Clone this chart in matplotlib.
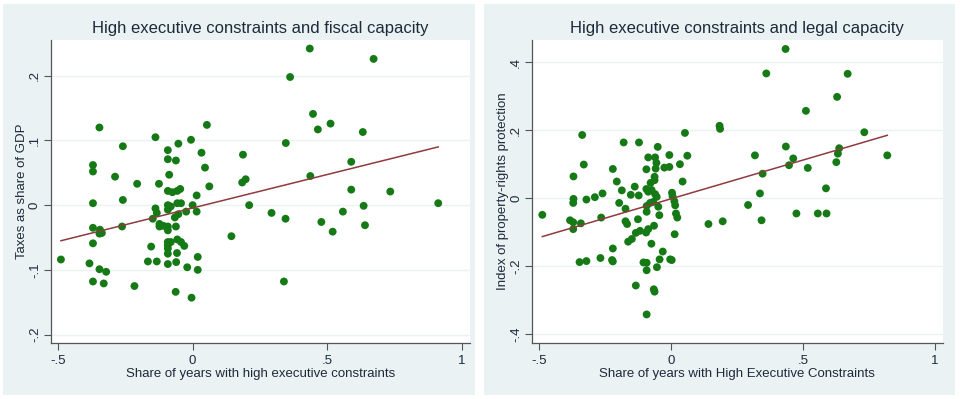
import numpy as np
import matplotlib
matplotlib.use("Agg")
import matplotlib.pyplot as plt
from matplotlib.patches import Rectangle

# ---- donnees --------------------------------------------------------------
# panneau gauche : capacite fiscale
fisc_x = [0.435, 0.672, 0.362, -0.346, 0.053, 0.447, 0.465, 0.512, 0.632, -0.138,
          -0.006, -0.053, 0.346, -0.259, -0.092, 0.033, 0.187, -0.092, -0.062, 0.589,
          -0.370, -0.370, 0.046, -0.087, -0.288, 0.437, 0.184, 0.197, -0.206, -0.125,
          0.062, -0.092, -0.075, -0.057, -0.046, 0.015, 0.589, 0.734, -0.259, 0.912,
          -0.370, -0.092, -0.081, -0.092, -0.057, -0.043, 0.000, 0.015, -0.024, -0.138,
          -0.133, -0.148, -0.053, -0.066, 0.210, 0.293, 0.345, 0.478, 0.558, 0.635,
          0.520, 0.640, -0.370, -0.344, -0.337, -0.346, -0.262, -0.123, -0.108, -0.123,
          -0.092, -0.092, -0.062, -0.370, 0.144, -0.154, -0.092, -0.092, -0.081, -0.092,
          -0.092, -0.057, -0.043, -0.031, -0.058, -0.489, -0.383, -0.166, -0.133, -0.092,
          -0.061, 0.019, -0.346, -0.321, -0.020, 0.019, -0.370, -0.330, -0.216, 0.339,
          -0.063, -0.004]
fisc_y = [0.242, 0.226, 0.198, 0.120, 0.124, 0.141, 0.117, 0.126, 0.113, 0.105,
          0.101, 0.095, 0.096, 0.091, 0.085, 0.081, 0.078, 0.071, 0.069, 0.067,
          0.062, 0.052, 0.058, 0.047, 0.044, 0.045, 0.035, 0.040, 0.033, 0.033,
          0.029, 0.022, 0.020, 0.022, 0.025, 0.015, 0.024, 0.021, 0.008, 0.003,
          0.003, 0.000, -0.002, -0.007, 0.003, 0.003, 0.000, -0.010, -0.010, -0.005,
          -0.012, -0.021, -0.014, -0.019, 0.000, -0.012, -0.021, -0.026, -0.010, -0.001,
          -0.041, -0.031, -0.035, -0.038, -0.043, -0.044, -0.033, -0.029, -0.032, -0.033,
          -0.033, -0.039, -0.033, -0.059, -0.048, -0.064, -0.057, -0.062, -0.057, -0.075,
          -0.067, -0.053, -0.057, -0.063, -0.074, -0.084, -0.090, -0.087, -0.087, -0.091,
          -0.088, -0.080, -0.099, -0.103, -0.096, -0.100, -0.118, -0.121, -0.125, -0.118,
          -0.134, -0.143]
fisc_fit_x = [-0.489, 0.912]
fisc_fit_y = [-0.055, 0.090]

# panneau droit : capacite legale
leg_x = [0.434, 0.361, 0.669, 0.629, 0.511, 0.184, 0.186, 0.732, 0.053, -0.336,
         -0.179, -0.121, -0.050, 0.435, 0.637, 0.632, -0.086, -0.060, -0.006, 0.062,
         0.318, 0.463, 0.819, -0.055, -0.330, 0.034, 0.447, 0.626, -0.093, -0.058,
         -0.025, -0.006, -0.220, 0.518, -0.369, 0.347, -0.062, -0.205, 0.044, -0.077,
         -0.062, -0.137, 0.587, -0.186, -0.093, -0.086, -0.073, -0.152, -0.122, -0.060,
         -0.054, 0.004, 0.006, -0.259, -0.288, -0.369, -0.320, 0.337,
         -0.487, -0.370, -0.196, -0.172, -0.264, -0.382, -0.370, -0.341, -0.370, -0.125,
         -0.172, -0.166, -0.092, -0.092, -0.079, -0.067, -0.048, -0.044, 0.016, 0.013,
         0.019, 0.024, 0.142, 0.196, 0.292, 0.343, 0.475, 0.556, 0.589, -0.064,
         -0.086, -0.094, -0.117, -0.133, 0.014, -0.148, -0.162, -0.074, -0.220, -0.031,
         -0.267, -0.223, -0.220, -0.346, -0.320, -0.043, -0.003, 0.003, -0.104, -0.092,
         -0.053, -0.092, -0.133, -0.065, -0.062, -0.092]
leg_y = [0.439, 0.367, 0.366, 0.298, 0.257, 0.213, 0.204, 0.194, 0.192, 0.186,
         0.164, 0.164, 0.151, 0.152, 0.147, 0.131, 0.120, 0.120, 0.127, 0.125,
         0.126, 0.117, 0.126, 0.104, 0.099, 0.100, 0.097, 0.106, 0.085, 0.087,
         0.090, 0.092, 0.086, 0.089, 0.064, 0.072, 0.063, 0.049, 0.049, 0.045,
         0.053, 0.034, 0.029, 0.023, 0.027, 0.019, 0.024, 0.010, 0.008, 0.012,
         0.004, 0.016, 0.006, 0.014, 0.003, -0.002, -0.004, 0.014,
         -0.049, -0.014, -0.014, -0.031, -0.057, -0.065, -0.071, -0.074, -0.091, -0.062,
         -0.068, -0.076, -0.040, -0.023, -0.014, -0.011, -0.025, -0.050, -0.021, -0.009,
         -0.045, -0.057, -0.076, -0.068, -0.020, -0.065, -0.045, -0.045, -0.045, -0.081,
         -0.091, -0.101, -0.096, -0.102, -0.106, -0.120, -0.128, -0.134, -0.148, -0.157,
         -0.176, -0.182, -0.186, -0.188, -0.185, -0.180, -0.180, -0.182, -0.189, -0.190,
         -0.203, -0.212, -0.257, -0.268, -0.275, -0.342]
leg_fit_x = [-0.487, 0.819]
leg_fit_y = [-0.113, 0.185]

# ---- style facon Stata s2color --------------------------------------------
plt.rcParams['font.family'] = ['Liberation Sans', 'DejaVu Sans']
fond = "#eaf2f3"
vert = "#157a15"
bordeaux = "#8f3a3f"
texte = "#1c2a3a"

fig = plt.figure(figsize=(9.6, 3.99), dpi=100, facecolor="white")
# cadres gris-bleu des deux graphiques (sous les axes)
fig.patches.append(Rectangle((3/960, 4/399), 472/960, 391/399, transform=fig.transFigure,
                             facecolor=fond, edgecolor="none", zorder=-10))
fig.patches.append(Rectangle((484/960, 4/399), 471/960, 391/399, transform=fig.transFigure,
                             facecolor=fond, edgecolor="none", zorder=-10))

panneaux = [
    dict(pos=[0.0528, 0.1404, 0.4368, 0.759], x=fisc_x, y=fisc_y, fx=fisc_fit_x, fy=fisc_fit_y,
         titre="High executive constraints and fiscal capacity",
         xlab="Share of years with high executive constraints",
         ylab="Taxes as share of GDP",
         ylim=(-0.213, 0.255), yt=[-0.2, -0.1, 0, 0.1, 0.2], ytl=["-.2", "-.1", "0", ".1", ".2"]),
    dict(pos=[0.5539, 0.1404, 0.4284, 0.759], x=leg_x, y=leg_y, fx=leg_fit_x, fy=leg_fit_y,
         titre="High executive constraints and legal capacity",
         xlab="Share of years with High Executive Constraints",
         ylab="Index of property-rights protection",
         ylim=(-0.426, 0.465), yt=[-0.4, -0.2, 0, 0.2, 0.4], ytl=["-.4", "-.2", "0", ".2", ".4"]),
]

for p in panneaux:
    ax = fig.add_axes(p["pos"])
    ax.set_facecolor("white")
    ax.scatter(p["x"], p["y"], s=32, color=vert, edgecolors="none", zorder=3)
    ax.plot(p["fx"], p["fy"], color=bordeaux, lw=1.1, zorder=4)
    ax.set_xlim(-0.527, 1.03)
    ax.set_ylim(*p["ylim"])
    ax.set_xticks([-0.5, 0, 0.5, 1])
    ax.set_xticklabels(["-.5", "0", ".5", "1"])
    ax.set_yticks(p["yt"])
    ax.set_yticklabels(p["ytl"], rotation=90, va="center")
    ax.grid(axis="y", color=fond, lw=1.0, zorder=0)
    ax.set_axisbelow(True)
    for s in ["top", "right"]:
        ax.spines[s].set_visible(False)
    for s in ["left", "bottom"]:
        ax.spines[s].set_color("#555555")
        ax.spines[s].set_linewidth(0.9)
    ax.tick_params(colors="#555555", labelcolor=texte, labelsize=9.5, length=5, width=0.8)
    ax.tick_params(axis="y", pad=2)
    ax.set_title(p["titre"], fontsize=12, color=texte, pad=5)
    ax.set_xlabel(p["xlab"], fontsize=9.5, color=texte, labelpad=1)
    ax.set_ylabel(p["ylab"], fontsize=9.5, color=texte, labelpad=1)

plt.savefig("out.png", dpi=100, facecolor="white")
